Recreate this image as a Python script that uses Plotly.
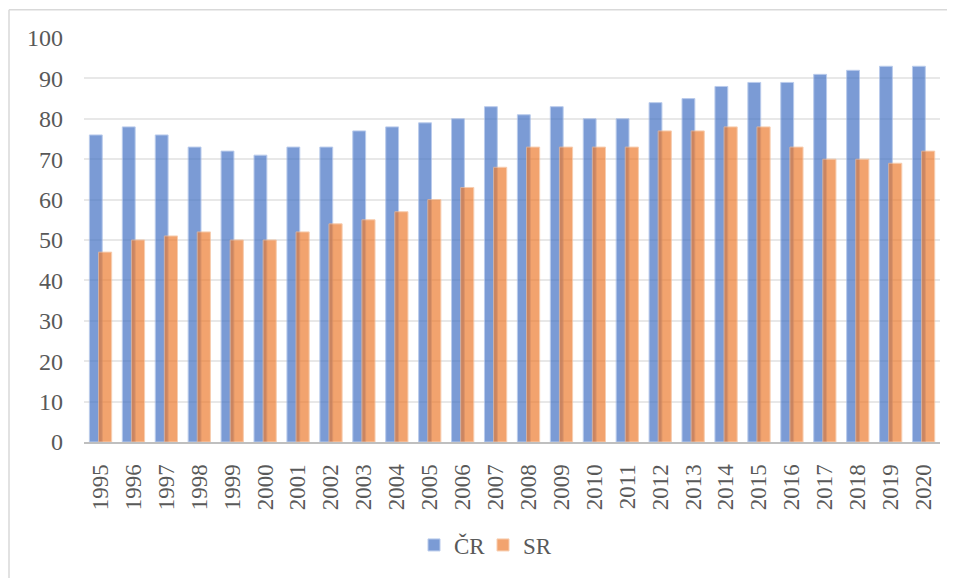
import plotly.graph_objects as go

years = [str(y) for y in range(1995, 2021)]
cr = [76, 78, 76, 73, 72, 71, 73, 73, 77, 78, 79, 80, 83, 81, 83, 80, 80, 84, 85, 88, 89, 89, 91, 92, 93, 93]
sr = [47, 50, 51, 52, 50, 50, 52, 54, 55, 57, 60, 63, 68, 73, 73, 73, 73, 77, 77, 78, 78, 73, 70, 70, 69, 72]
y_ticks = [0, 10, 20, 30, 40, 50, 60, 70, 80, 90, 100]

font_family = "Liberation Serif, Times New Roman, serif"
txt_color = "#595959"

# page is offset by the default 8px body margin
W, H = 947, 570
L, R, T, B = 76, 15, 30.5, 133.5
pw = W - L - R
ph = H - T - B

fig = go.Figure()
fig.add_trace(go.Bar(
    x=years, y=cr, name="ČR",
    marker=dict(color="#4472C4", line=dict(color="#9DB6E4", width=1)),
    opacity=0.7, offset=-0.336, width=0.39,
))
fig.add_trace(go.Bar(
    x=years, y=sr, name="SR",
    marker=dict(color="#ED7D31", line=dict(color="#F5B98F", width=1)),
    opacity=0.7, offset=-0.06, width=0.4,
))

fig.update_layout(
    width=W, height=H,
    barmode="overlay",
    paper_bgcolor="white", plot_bgcolor="white",
    margin=dict(l=L, r=R, t=T, b=B),
    font=dict(family=font_family, size=24, color=txt_color),
    showlegend=True,
    legend=dict(orientation="h", x=(438 - 8 - 24 - L) / pw, xanchor="left",
                y=-(548 - 8 - (H - B)) / ph, yanchor="middle",
                font=dict(family=font_family, size=23, color=txt_color),
                entrywidth=24, entrywidthmode="pixels", tracegroupgap=0),
    xaxis=dict(type="category", tickangle=-90, showgrid=False,
               showline=True, linecolor="#BFBFBF", linewidth=2,
               ticks="", ticklabelstandoff=11,
               tickfont=dict(family=font_family, size=23, color=txt_color)),
    yaxis=dict(range=[0, 100], tickvals=y_ticks, showgrid=True,
               gridcolor="#E8E8E8", gridwidth=1.5, zeroline=False,
               showline=False, ticks="", ticklabelstandoff=20,
               tickfont=dict(family=font_family, size=24, color=txt_color)),
    shapes=[
        dict(type="line", xref="paper", yref="paper",
             x0=(1 - L) / pw, x1=(W + 20 - L) / pw,
             y0=(H - B - 2) / ph, y1=(H - B - 2) / ph,
             line=dict(color="#D9D9D9", width=1.5)),
        dict(type="line", xref="paper", yref="paper",
             x0=(1 - L) / pw, x1=(1 - L) / pw,
             y0=(H - B - 2) / ph, y1=(H - B - H - 20) / ph,
             line=dict(color="#D9D9D9", width=1.5)),
    ],
)

fig.write_html("out.html")
